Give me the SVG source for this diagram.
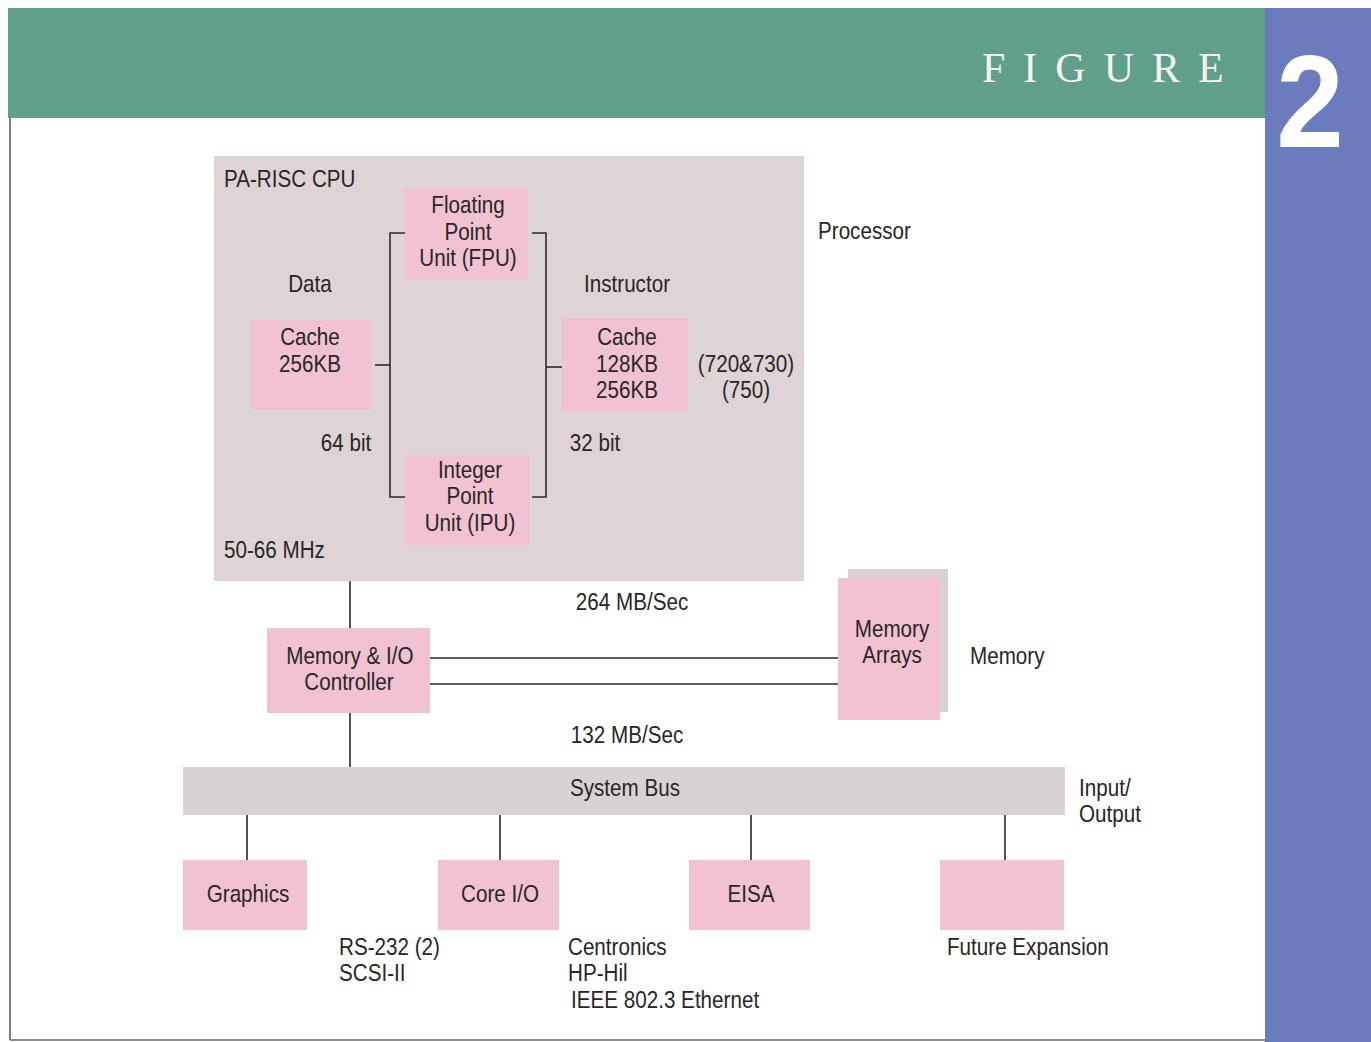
<svg xmlns="http://www.w3.org/2000/svg" width="1371" height="1042" viewBox="0 0 1371 1042">
<defs>
<style>
.t{font-family:"Liberation Sans",Arial,sans-serif;font-size:24px;fill:#2a2526}
.m{text-anchor:middle}
.box{fill:#f1c2d2}
.ln{stroke:#2a2a2a;stroke-width:1.6;fill:none}
</style>
</defs>
<rect x="0" y="0" width="1371" height="1042" fill="#ffffff"/>
<!-- header -->
<rect x="8" y="8" width="1258" height="110" fill="#609f8b"/>
<rect x="1265" y="8" width="106" height="1034" fill="#6a7cbd"/>
<text x="982" y="82" font-family="Liberation Serif,serif" font-size="42" fill="#f4f4f0" letter-spacing="18">FIGURE</text>
<text x="1310" y="147" font-family="Liberation Sans,Arial,sans-serif" font-weight="bold" font-size="132" fill="#ffffff" text-anchor="middle" transform="translate(1310 0) scale(0.92 1) translate(-1310 0)">2</text>
<line x1="10" y1="118" x2="10" y2="1040" stroke="#555" stroke-width="1.5"/>
<line x1="10" y1="1040" x2="1265" y2="1040" stroke="#666" stroke-width="1.5"/>

<!-- CPU -->
<g id="cpu">
<rect x="214" y="156" width="590" height="425" fill="#ded4d5"/>
<text class="t" transform="translate(224 187) scale(0.86 1)">PA-RISC CPU</text>
<text class="t" transform="translate(224 558) scale(0.86 1)">50-66 MHz</text>
</g>
<g id="fpu">
<rect class="box" x="404" y="188" width="124" height="92"/>
<text class="t m" transform="translate(468 213) scale(0.86 1)">Floating</text>
<text class="t m" transform="translate(468 240) scale(0.86 1)">Point</text>
<text class="t m" transform="translate(468 266) scale(0.86 1)">Unit (FPU)</text>
</g>
<g id="ipu">
<rect class="box" x="404" y="455" width="126" height="90"/>
<text class="t m" transform="translate(470 478) scale(0.86 1)">Integer</text>
<text class="t m" transform="translate(470 504) scale(0.86 1)">Point</text>
<text class="t m" transform="translate(470 531) scale(0.86 1)">Unit (IPU)</text>
</g>
<g id="dcache">
<text class="t m" transform="translate(310 292) scale(0.86 1)">Data</text>
<rect class="box" x="251" y="320" width="121" height="90"/>
<text class="t m" transform="translate(310 345) scale(0.86 1)">Cache</text>
<text class="t m" transform="translate(310 372) scale(0.86 1)">256KB</text>
<text class="t m" transform="translate(346 451) scale(0.86 1)">64 bit</text>
</g>
<g id="icache">
<text class="t m" transform="translate(627 292) scale(0.86 1)">Instructor</text>
<rect class="box" x="562" y="318" width="126" height="94"/>
<text class="t m" transform="translate(627 345) scale(0.86 1)">Cache</text>
<text class="t m" transform="translate(627 372) scale(0.86 1)">128KB</text>
<text class="t m" transform="translate(627 398) scale(0.86 1)">256KB</text>
<text class="t m" transform="translate(746 372) scale(0.86 1)">(720&amp;730)</text>
<text class="t m" transform="translate(746 398) scale(0.86 1)">(750)</text>
<text class="t m" transform="translate(595 451) scale(0.86 1)">32 bit</text>
</g>
<text class="t" transform="translate(818 239) scale(0.86 1)">Processor</text>

<!-- memory -->
<g id="mio">
<rect class="box" x="267" y="628" width="163" height="85"/>
<text class="t m" transform="translate(350 664) scale(0.86 1)">Memory &amp; I/O</text>
<text class="t m" transform="translate(349 690) scale(0.86 1)">Controller</text>
</g>
<g id="memarrays">
<rect x="848" y="569" width="100" height="143" fill="#d9d0d4"/>
<rect class="box" x="838" y="578" width="102" height="142"/>
<text class="t m" transform="translate(892 637) scale(0.86 1)">Memory</text>
<text class="t m" transform="translate(892 663) scale(0.86 1)">Arrays</text>
</g>
<text class="t" transform="translate(970 664) scale(0.86 1)">Memory</text>
<text class="t m" transform="translate(632 610) scale(0.86 1)">264 MB/Sec</text>
<text class="t m" transform="translate(627 743) scale(0.86 1)">132 MB/Sec</text>

<!-- bus -->
<g id="sysbus">
<rect x="183" y="767" width="882" height="48" fill="#d7d3d4"/>
<text class="t m" transform="translate(625 796) scale(0.86 1)">System Bus</text>
</g>
<text class="t" transform="translate(1079 796) scale(0.86 1)">Input/</text>
<text class="t" transform="translate(1079 822) scale(0.86 1)">Output</text>

<g id="graphics">
<rect class="box" x="183" y="860" width="124" height="70"/>
<text class="t m" transform="translate(248 902) scale(0.86 1)">Graphics</text>
</g>
<g id="coreio">
<rect class="box" x="438" y="860" width="121" height="70"/>
<text class="t m" transform="translate(500 902) scale(0.86 1)">Core I/O</text>
</g>
<g id="eisa">
<rect class="box" x="689" y="860" width="121" height="70"/>
<text class="t m" transform="translate(751 902) scale(0.86 1)">EISA</text>
</g>
<g id="future">
<rect class="box" x="940" y="860" width="124" height="70"/>
</g>
<text class="t" transform="translate(339 955) scale(0.86 1)">RS-232 (2)</text>
<text class="t" transform="translate(339 981) scale(0.86 1)">SCSI-II</text>
<text class="t" transform="translate(568 955) scale(0.86 1)">Centronics</text>
<text class="t" transform="translate(568 981) scale(0.86 1)">HP-Hil</text>
<text class="t" transform="translate(571 1008) scale(0.86 1)">IEEE 802.3 Ethernet</text>
<text class="t" transform="translate(947 955) scale(0.86 1)">Future Expansion</text>

<!-- connectors -->
<g id="connectors">
<path class="ln" d="M405 233 H390 V497 H405"/>
<path class="ln" d="M375 365 H390"/>
<path class="ln" d="M532 233 H546 V497 H532"/>
<path class="ln" d="M546 367 H562"/>
<path class="ln" d="M350 581 V628"/>
<path class="ln" d="M350 713 V767"/>
<path class="ln" d="M430 658 H838"/>
<path class="ln" d="M430 684 H838"/>
<path class="ln" d="M247 815 V860"/>
<path class="ln" d="M500 815 V860"/>
<path class="ln" d="M751 815 V860"/>
<path class="ln" d="M1005 815 V860"/>
</g>
</svg>
